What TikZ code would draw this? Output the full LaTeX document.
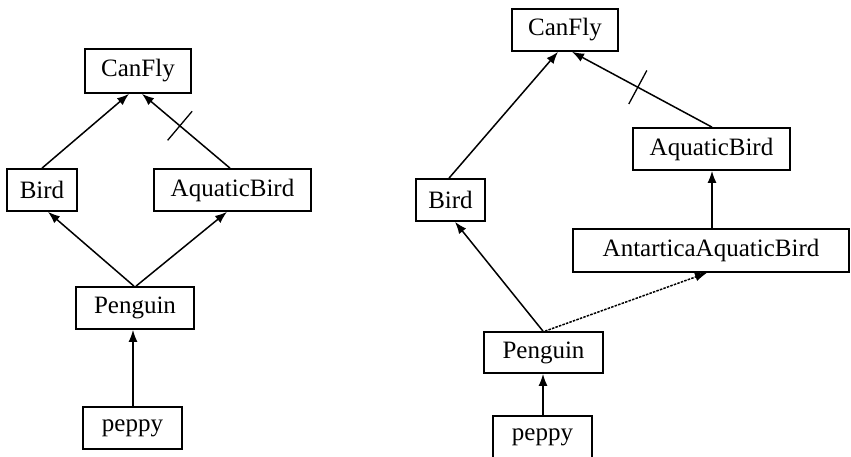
\documentclass[tikz,border=0pt]{standalone}
\usepackage{fontspec}
\setmainfont{Liberation Serif}
\usetikzlibrary{calc,arrows.meta,decorations.markings}
\begin{document}
\begin{tikzpicture}[x=1pt,y=-1pt,
  box/.style={draw,line width=1.7pt,rectangle,inner sep=0pt,font=\fontsize{25}{30}\selectfont},
  arr/.style={line width=1.5pt,-{Latex[length=12pt,width=9pt]}},
  dsh/.style={arr,dash pattern=on 2.5pt off 1.2pt},
  cancel/.style={postaction={decorate},decoration={markings,mark=at position #1 with {\draw[-,line width=1.3pt,solid] (0,-19pt)--(0,19pt);}}}
]
\useasboundingbox (0,0) rectangle (851,457);
% left diagram
\node[box,minimum width=106pt,minimum height=44pt] (cfL) at (138,71) {CanFly};
\node[box,minimum width=70pt,minimum height=42pt] (bdL) at (42,190) {Bird};
\node[box,minimum width=157pt,minimum height=42pt] (aqL) at (232.5,190) {AquaticBird};
\node[box,minimum width=118pt,minimum height=42pt] (pgL) at (135,308) {Penguin};
\node[box,minimum width=99pt,minimum height=42pt] (ppL) at (132.5,428) {peppy};
\draw[arr] (bdL.north) -- ($(cfL.south)+(-9,0)$);
\draw[arr,cancel=0.57] ($(aqL.north)+(-2.5,0)$) -- ($(cfL.south)+(4,0)$);
\draw[arr] ($(pgL.north)+(-1,0)$) -- ($(bdL.south)+(6,0)$);
\draw[arr] ($(pgL.north)+(1,0)$) -- ($(aqL.south)+(-5.5,0)$);
\draw[arr] ($(ppL.north)+(0.5,0)$) -- ($(pgL.south)+(-2,0)$);
% right diagram
\node[box,minimum width=106pt,minimum height=42pt] (cfR) at (565,30) {CanFly};
\node[box,minimum width=157pt,minimum height=42pt] (aqR) at (711.5,149) {AquaticBird};
\node[box,minimum width=69pt,minimum height=42pt] (bdR) at (450.5,200) {Bird};
\node[box,minimum width=276pt,minimum height=43pt] (anR) at (711,250.5) {AntarticaAquaticBird};
\node[box,minimum width=119pt,minimum height=41pt] (pgR) at (543.5,352.5) {Penguin};
\node[box,minimum width=99pt,minimum height=42pt] (ppR) at (542.5,437) {peppy};
\draw[arr] ($(bdR.north)+(-1.5,0)$) -- ($(cfR.south)+(-7,0)$);
\draw[arr,cancel=0.53] ($(aqR.north)+(0.5,0)$) -- ($(cfR.south)+(7,0)$);
\draw[arr] ($(anR.north)+(1,0)$) -- ($(aqR.south)+(0.5,0)$);
\draw[arr] ($(pgR.north)+(-0.5,0)$) -- ($(bdR.south)+(4.5,0)$);
\draw[dsh] ($(pgR.north)+(1.5,0)$) -- ($(anR.south)+(-4,0)$);
\draw[arr] ($(ppR.north)+(0.5,0)$) -- ($(pgR.south)+(-0.5,0)$);
\end{tikzpicture}
\end{document}
